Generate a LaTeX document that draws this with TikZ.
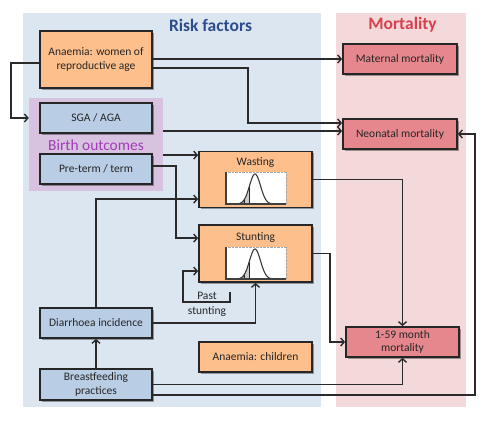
\documentclass[tikz,border=0pt]{standalone}
\usepackage{fontspec}
\setmainfont{Carlito}
\usetikzlibrary{shadows,arrows.meta}
\definecolor{panelblue}{HTML}{DCE6F1}
\definecolor{panelpink}{HTML}{F4D9DA}
\definecolor{boxblue}{HTML}{B9CDE5}
\definecolor{boxorange}{HTML}{FDBF8B}
\definecolor{boxred}{HTML}{E5878C}
\definecolor{regpurple}{HTML}{D7C2DF}
\definecolor{txtpurple}{HTML}{A23CB8}
\definecolor{txtblue}{HTML}{2C4C8C}
\definecolor{txtred}{HTML}{D8404E}
\definecolor{linec}{HTML}{2A2A2A}
\newcommand\gaussplot[2]{%
 \pgfmathsetmacro\gmu{#1+29}%
 \pgfmathsetmacro\gb{#2+32}%
 \fill[white] (#1,#2) rectangle ++(60,32);
 \fill[gray!70] plot[domain=-3.6:-2,samples=20] ({\gmu+\x*5.5},{\gb-30*exp(-0.5*(\x)*(\x))}) -- ({\gmu-11},\gb) -- ({\gmu-3.6*5.5},\gb) -- cycle;
 \fill[gray!40] plot[domain=-2:-1,samples=15] ({\gmu+\x*5.5},{\gb-30*exp(-0.5*(\x)*(\x))}) -- ({\gmu-5.5},\gb) -- ({\gmu-11},\gb) -- cycle;
 \draw[gray!70,densely dotted] (#1,#2) rectangle ++(60,32);
 \draw[gray!30!black,line width=.7] ({\gmu-11},\gb) -- ({\gmu-11},{\gb-30*exp(-2)});
 \draw[gray!30!black,line width=.7] ({\gmu-5.5},\gb) -- ({\gmu-5.5},{\gb-30*exp(-0.5)});
 \draw[gray!45!black,line width=1.1] plot[domain=-5:5.4,samples=80] ({\gmu+\x*5.5},{\gb-30*exp(-0.5*(\x)*(\x))});
 \draw[black!75,line width=1.2] (#1,#2) -- (#1,\gb) -- ++(60,0);
}
\tikzset{
 box/.style={draw=black!85,line width=1.8pt,minimum width=112pt,minimum height=30pt,
   inner sep=1pt,align=center,text=black!85,font=\fontsize{11.5}{13.5}\selectfont,
   drop shadow={shadow xshift=1.8pt,shadow yshift=-1.8pt,opacity=.35,fill=black}},
 bluebox/.style={box,fill=boxblue},
 orangebox/.style={box,fill=boxorange},
 redbox/.style={box,fill=boxred},
 arr/.style={draw=linec,line width=1.5pt,-{Straight Barb[length=3.5pt,width=8pt,line width=1.4pt]}},
 plain/.style={text=black!85,font=\fontsize{11.5}{13.5}\selectfont,inner sep=0pt},
}
\begin{document}
\begin{tikzpicture}[x=1pt,y=-1pt]
\useasboundingbox (0,0) rectangle (500,430);
% panels
\fill[panelblue] (22.5,13) rectangle (321,407);
\fill[panelpink] (336,13) rectangle (466,407);
\node[font=\bfseries\fontsize{17.5}{20}\selectfont,text=txtblue] (rtitle) at (210.5,25) {Risk factors};
\node[font=\bfseries\fontsize{17.5}{20}\selectfont,text=txtred] (mtitle) at (402.5,25) {Mortality};
% birth outcomes region
\node[fill=regpurple,minimum width=134pt,minimum height=93pt,inner sep=0pt] (birth) at (96,144.5) {};
\node[text=txtpurple,font=\fontsize{15.4}{18}\selectfont,inner sep=0pt] (btitle) at (96,145) {Birth outcomes};
% boxes
\node[orangebox,minimum height=57pt] (anaemia) at (96,59.5) {Anaemia: women of\\reproductive age};
\node[bluebox] (sga) at (96,118) {SGA / AGA};
\node[bluebox] (preterm) at (96,169) {Pre-term / term};
\node[redbox,minimum width=114pt] (maternal) at (400,59) {Maternal mortality};
\node[redbox,minimum width=114pt] (neonatal) at (400,134) {Neonatal mortality};
\node[orangebox,minimum width=113pt,minimum height=56pt] (wasting) at (255.5,179.5) {};
\node[orangebox,minimum width=113pt,minimum height=57pt] (stunting) at (255.5,253.5) {};
\node[bluebox] (diarr) at (96,323) {Diarrhoea incidence};
\node[bluebox,minimum height=31pt] (bf) at (96,384.5) {Breastfeeding\\practices};
\node[orangebox,minimum width=113pt] (anchild) at (255.5,357) {Anaemia: children};
\node[redbox,minimum width=113pt] (m159) at (402.5,342) {1-59 month\\mortality};
% inner labels and plots
\node[plain] (wlabel) at (255.5,163) {Wasting};
\node[plain] (slabel) at (255.5,238) {Stunting};
\gaussplot{226}{172}
\gaussplot{226}{247}
% past stunting
\node[plain] (past) at (207,296) {Past};
\node[plain] (pastst) at (207,312) {stunting};
% helper coordinates
\coordinate (n1) at ([yshift=11pt]neonatal.west);
\coordinate (n2) at ([yshift=3pt]neonatal.west);
\coordinate (nr) at ([xshift=17pt]neonatal.east);
\coordinate (w1) at ([yshift=-4.5pt]wasting.north west);
\coordinate (w2) at ([yshift=-48.5pt]wasting.north west);
\coordinate (s1) at ([yshift=-14pt]stunting.north west);
\coordinate (s2) at ([yshift=-47pt]stunting.north west);
\coordinate (pstart) at (230,292);
% connectors
\draw[arr] ([yshift=-3.5pt]anaemia.west) -- ++(-28,0) |- (birth.west |- sga.west);
\draw[arr] (anaemia.east |- maternal.west) -- (maternal.west);
\draw[arr] ([yshift=-8.5pt]anaemia.east) -| ([xshift=-94pt]n1) -- (n1);
\draw[arr] (birth.east |- n2) -- (n2);
\draw[arr] (birth.east |- w1) -- (w1);
\draw[arr] ([yshift=3pt]preterm.east) -- ++(23,0) |- (s1);
\draw[arr] (diarr.north) |- (w2);
\draw[arr] (diarr.east) -| (stunting.south);
\draw[arr] (pstart) -- ++(0,10) -- ++(-47,0) |- (s2);
\draw[arr] (bf.north) -- (diarr.south);
\draw[arr] (bf.east) -| (m159.south);
\draw[arr] ([yshift=-10.5pt]bf.east) -| (nr) -- (neonatal.east);
\draw[arr] (wasting.east) -| (m159.north);
\draw[arr] (stunting.east) -- ++(17,0) |- (m159.west);
\end{tikzpicture}
\end{document}
